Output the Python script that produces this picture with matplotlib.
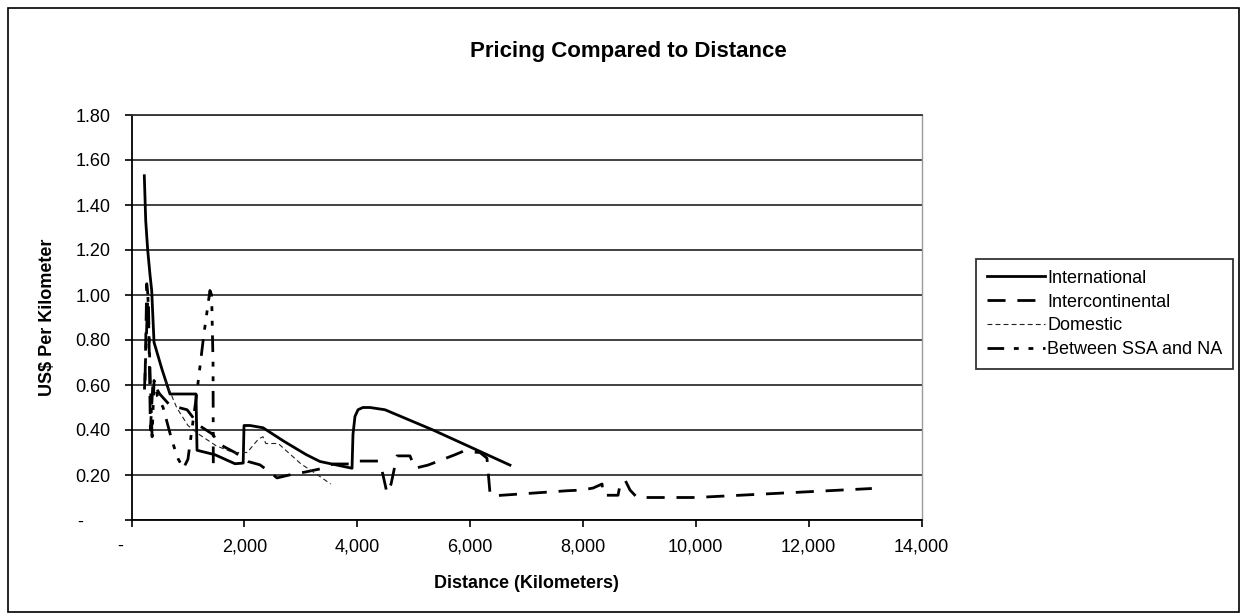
import matplotlib
matplotlib.use("Agg")
import matplotlib.pyplot as plt
import matplotlib.transforms as mtransforms
from matplotlib.patches import Rectangle

plt.rcParams['font.family'] = ['Liberation Sans', 'DejaVu Sans']
plt.rcParams['lines.scale_dashes'] = False

# ---- data: distance (km) vs price (US$ per km) ----
international_km = [227, 252, 287, 328, 358, 399, 540, 682, 1143, 1161, 1480, 1834,
                    1979, 1994, 2100, 2330, 2700, 3100, 3340, 3642, 3908, 3925, 3960,
                    4014, 4100, 4226, 4492, 5343, 6707]
international_usd = [1.53, 1.33, 1.20, 1.09, 1.02, 0.79, 0.67, 0.56, 0.56, 0.31, 0.29, 0.25,
                     0.253, 0.42, 0.42, 0.41, 0.35, 0.29, 0.26, 0.244, 0.23, 0.38, 0.46,
                     0.49, 0.50, 0.50, 0.49, 0.40, 0.244]

intercontinental_km = [240, 270, 300, 335, 380, 500, 680, 985, 1200, 1445, 1533, 1834, 2065,
                       2277, 2454, 2578, 2862, 3075, 3341, 3571, 3908, 4014, 4368, 4439, 4528,
                       4600, 4705, 4935, 5023, 5254, 5732, 5874, 6175, 6299, 6353, 6390, 7719,
                       7976, 8180, 8339, 8357, 8622, 8657, 8746, 8835, 8959, 10000, 13120]
intercontinental_usd = [0.62, 1.05, 0.98, 0.40, 0.61, 0.56, 0.51, 0.49, 0.42, 0.38, 0.34, 0.30,
                        0.26, 0.245, 0.213, 0.187, 0.204, 0.213, 0.227, 0.249, 0.249, 0.262,
                        0.262, 0.22, 0.12, 0.16, 0.285, 0.285, 0.23, 0.244, 0.29, 0.305, 0.30,
                        0.275, 0.12, 0.107, 0.13, 0.133, 0.142, 0.16, 0.11, 0.11, 0.155, 0.178,
                        0.133, 0.10, 0.10, 0.14]

domestic_km = [600, 800, 1000, 1200, 1500, 1800, 2050, 2250, 2330, 2380, 2600, 3000, 3300, 3530]
domestic_usd = [0.62, 0.50, 0.42, 0.38, 0.33, 0.30, 0.30, 0.36, 0.37, 0.34, 0.34, 0.25, 0.20, 0.16]

ssa_na_km = [230, 290, 330, 365, 400, 460, 560, 720, 830, 920, 1000, 1150, 1280, 1390, 1420,
             1445, 1450]
ssa_na_usd = [0.58, 1.00, 0.65, 0.37, 0.62, 0.55, 0.50, 0.35, 0.27, 0.23, 0.27, 0.55, 0.82,
              1.02, 1.00, 0.70, 0.24]

series_names = ["International", "Intercontinental", "Domestic", "Between SSA and NA"]

y_ticks = [0, 0.2, 0.4, 0.6, 0.8, 1.0, 1.2, 1.4, 1.6, 1.8]
y_tick_labels = ["-", "0.20", "0.40", "0.60", "0.80", "1.00", "1.20", "1.40", "1.60", "1.80"]
x_ticks = [0, 2000, 4000, 6000, 8000, 10000, 12000, 14000]
x_tick_labels = ["-", "2,000", "4,000", "6,000", "8,000", "10,000", "12,000", "14,000"]

# ---- figure ----
W, H = 1241, 616
fig = plt.figure(figsize=(W / 100, H / 100), dpi=100)
fig.patch.set_facecolor("white")
fig.add_artist(Rectangle((8 / W, 1 - 612 / H), (1239 - 8) / W, (612 - 8) / H,
                         transform=fig.transFigure, fill=False, edgecolor="black",
                         linewidth=1.2))

ax = fig.add_axes([131.5 / W, 1 - 520 / H, (921.5 - 131.5) / W, (520 - 115) / H])

lw = 2.0
ax.plot(international_km, international_usd, color="black", lw=lw, linestyle="-",
        label=series_names[0], solid_joinstyle="round")
ax.plot(intercontinental_km, intercontinental_usd, color="black", lw=lw,
        linestyle=(0, (13, 8.5)), label=series_names[1])
ax.plot(domestic_km, domestic_usd, color="#222222", lw=0.8,
        linestyle=(0, (3.5, 2.3)), label=series_names[2])
ax.plot(ssa_na_km, ssa_na_usd, color="black", lw=lw,
        linestyle=(0, (12, 7, 3.5, 7, 3.5, 7)), label=series_names[3])

ax.set_xlim(0, 14000)
ax.set_ylim(0, 1.8)
ax.set_yticks(y_ticks)
ax.set_yticklabels(y_tick_labels)
ax.set_xticks(x_ticks)
ax.set_xticklabels(x_tick_labels)
ax.yaxis.grid(True, color="#333333", linewidth=1.3)
ax.set_axisbelow(True)

for side in ("left", "bottom"):
    ax.spines[side].set_color("black")
    ax.spines[side].set_linewidth(1.3)
ax.spines["top"].set_color("#333333")
ax.spines["top"].set_linewidth(1.3)
ax.spines["right"].set_color("#999999")
ax.spines["right"].set_linewidth(1.0)

ax.tick_params(axis="both", direction="out", length=5, width=1.2, color="black",
               labelsize=13, pad=8)
ax.tick_params(axis="y", pad=10)

# zero labels drawn as a dash, offset as in accounting format
yl0 = ax.get_yticklabels()[0]
yl0.set_transform(yl0.get_transform() + mtransforms.ScaledTranslation(-28 / 100, 0, fig.dpi_scale_trans))
xl0 = ax.get_xticklabels()[0]
xl0.set_transform(xl0.get_transform() + mtransforms.ScaledTranslation(-11 / 100, 0, fig.dpi_scale_trans))

ax.set_xlabel("Distance (Kilometers)", fontsize=13, fontweight="bold", labelpad=14)
ax.set_ylabel("US$ Per Kilometer", fontsize=13, fontweight="bold", labelpad=14)
fig.text(628 / W, 1 - 52 / H, "Pricing Compared to Distance", ha="center", va="center",
         fontsize=16, fontweight="bold")

leg = ax.legend(loc="center left", bbox_to_anchor=(976 / W, 1 - 314 / H),
                bbox_transform=fig.transFigure, frameon=True, fancybox=False,
                edgecolor="black", fontsize=13, handlelength=3.2, handletextpad=0.15,
                labelspacing=0.38, borderpad=0.6, borderaxespad=0)
leg.get_frame().set_linewidth(1.3)

fig.savefig("out.png", dpi=100, facecolor="white")
